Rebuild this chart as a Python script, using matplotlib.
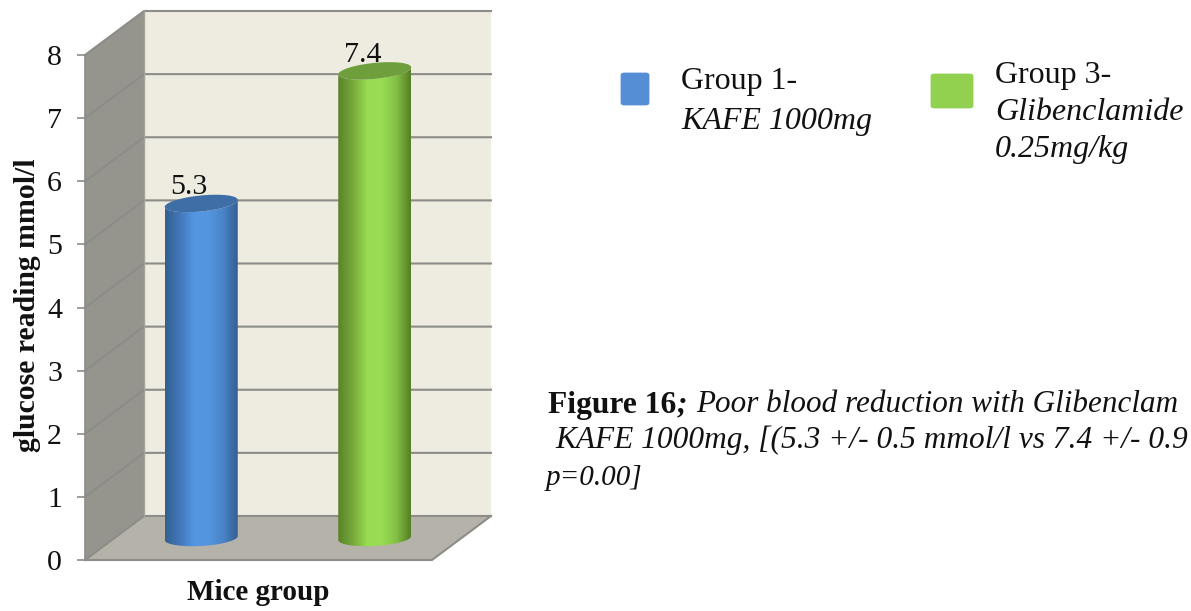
import matplotlib

matplotlib.use("Agg")
import matplotlib.pyplot as plt
import numpy as np
from matplotlib.colors import LinearSegmentedColormap
from matplotlib.patches import FancyBboxPatch, Polygon
from matplotlib.path import Path

GROUPS = ["Group 1", "Group 3"]
GLUCOSE = [5.3, 7.4]
Y_TICKS = [0, 1, 2, 3, 4, 5, 6, 7, 8]
X_LABEL = "Mice group"
Y_LABEL = "glucose reading mmol/l"
BODY_COLORS = [
    ["#33608f", "#4377b8", "#5596e2", "#5495e0", "#4a84c8", "#345f92"],
    ["#588427", "#76a83c", "#98dc52", "#99dd55", "#84c044", "#557f26"],
]
TOP_COLORS = ["#3f6ea6", "#6f9e3c"]
SWATCH_COLORS = ["#558ed5", "#92d050"]

W, H = 1191, 611
PX_X = 173.5  # pixels per x unit
PX_Y = 63.125  # pixels per y unit
DEPTH_X = 59 / PX_X
DEPTH_Y = 44 / PX_Y
GRID = "#8c8c88"
TEXT = "#111111"

plt.rcParams["font.family"] = ["Liberation Serif", "DejaVu Serif"]


def fx(x):
    return x / W


def fy(y):
    return 1 - y / H


def side_arc(cx, cy, skew, start, stop):
    # tilted ellipse in data units, a and b given in pixels
    t = np.linspace(start, stop, 80)
    x = cx + 36.5 * np.cos(t) / PX_X
    y = cy + (8.0 * np.sin(t) + skew * np.cos(t)) / PX_Y
    return np.column_stack([x, y])


def draw_room(ax):
    back = [(DEPTH_X, DEPTH_Y), (2 + DEPTH_X, DEPTH_Y), (2 + DEPTH_X, 8 + DEPTH_Y), (DEPTH_X, 8 + DEPTH_Y)]
    side = [(0, 0), (DEPTH_X, DEPTH_Y), (DEPTH_X, 8 + DEPTH_Y), (0, 8)]
    floor = [(0, 0), (2, 0), (2 + DEPTH_X, DEPTH_Y), (DEPTH_X, DEPTH_Y)]
    ax.add_patch(Polygon(back, fc="#eeece1", ec="none", zorder=1, clip_on=False))
    ax.add_patch(Polygon(side, fc="#96958d", ec="none", zorder=1, clip_on=False))
    ax.add_patch(Polygon(floor, fc="#b5b2aa", ec="none", zorder=1, clip_on=False))
    for tick in Y_TICKS:
        ax.plot(
            [0, DEPTH_X, 2 + DEPTH_X],
            [tick, tick + DEPTH_Y, tick + DEPTH_Y],
            color=GRID, lw=1.5, zorder=2, clip_on=False,
        )
    ax.plot([0, 2, 2 + DEPTH_X], [0, 0, DEPTH_Y], color=GRID, lw=1.5, zorder=2, clip_on=False)
    ax.plot([0, 0], [0, 8], color=GRID, lw=1.2, zorder=2, clip_on=False)
    ax.plot([DEPTH_X, DEPTH_X], [DEPTH_Y, 8 + DEPTH_Y], color="#a5a49c", lw=1, zorder=2, clip_on=False)


def draw_cylinder(ax, pos, value, body_colors, top_color):
    cx = pos + 0.5 + DEPTH_X / 2
    base = DEPTH_Y / 2
    top = base + value
    half = 36.5 / PX_X
    bottom_arc = side_arc(cx, base, 2.0, np.pi, 2 * np.pi)
    top_arc = side_arc(cx, top, 3.5, 2 * np.pi, np.pi)
    body = np.vstack([bottom_arc, top_arc, bottom_arc[:1]])
    cmap = LinearSegmentedColormap.from_list("body", body_colors)
    img = ax.imshow(
        np.linspace(0, 1, 200).reshape(1, -1), cmap=cmap, aspect="auto",
        extent=[cx - half, cx + half, base - 0.2, top + 0.2], zorder=3, clip_on=True,
    )
    img.set_clip_path(Path(body), ax.transData)
    cap = side_arc(cx, top, 3.5, 0, 2 * np.pi)
    ax.add_patch(Polygon(cap, fc=top_color, ec="none", zorder=4, clip_on=False))
    ax.text(
        cx - 12 / PX_X, top + 9 / PX_Y, f"{value:.1f}", ha="center", va="baseline",
        fontsize=21.5, color=TEXT, zorder=5, clip_on=False,
    )


def draw_legend(fig):
    boxes = [(620, 72, 30, 34), (930, 73, 44, 36)]
    for (x, y, w, h), color in zip(boxes, SWATCH_COLORS):
        fig.add_artist(FancyBboxPatch(
            (fx(x + 2), fy(y + h - 2)), (w - 4) / W, (h - 4) / H,
            boxstyle="round,pad=0,rounding_size=0.002",
            fc=color, ec=color, lw=2, transform=fig.transFigure,
        ))
    legend_lines = [
        (681, 82, "Group 1-", "normal"),
        (681, 121, "KAFE 1000mg", "italic"),
        (995, 76, "Group 3-", "normal"),
        (995, 112, "Glibenclamide", "italic"),
        (995, 149, "0.25mg/kg", "italic"),
    ]
    for x, y, label, style in legend_lines:
        fig.text(fx(x), fy(y), label, fontsize=23, style=style, va="center", color=TEXT)


def draw_caption(fig):
    head = fig.text(fx(548), fy(405), "Figure 16", fontsize=22.7, weight="bold", va="center", color=TEXT)
    fig.canvas.draw()
    right = head.get_window_extent().x1 / W
    semi = fig.text(right, fy(405), ";", fontsize=22.7, weight="bold", style="italic", va="center", color=TEXT)
    right = semi.get_window_extent().x1 / W
    fig.text(right + 9 / W, fy(405), "Poor blood reduction with Glibenclam", fontsize=22.4, style="italic", va="center", color=TEXT)
    fig.text(fx(555), fy(440), "KAFE 1000mg, [(5.3 +/- 0.5 mmol/l vs 7.4 +/- 0.9", fontsize=22.6, style="italic", va="center", color=TEXT)
    fig.text(fx(546), fy(478), "p=0.00]", fontsize=21, style="italic", va="center", color=TEXT)


def main():
    fig = plt.figure(figsize=(W / 100, H / 100), dpi=100, facecolor="white")
    ax = fig.add_axes([fx(85), fy(560), 347 / W, 505 / H])
    ax.patch.set_visible(False)
    for spine in ax.spines.values():
        spine.set_visible(False)

    draw_room(ax)
    for pos, value in enumerate(GLUCOSE):
        draw_cylinder(ax, pos, value, BODY_COLORS[pos], TOP_COLORS[pos])

    ax.set_xlim(0, 2)
    ax.set_ylim(0, 8)
    ax.set_xticks([])
    ax.set_yticks(Y_TICKS)
    ax.tick_params(axis="y", length=5.8, width=1.2, color=GRID, labelsize=21.5, pad=10.8, labelcolor=TEXT)
    fig.text(fx(258), fy(592), X_LABEL, fontsize=21, weight="bold", ha="center", va="center", color=TEXT)
    fig.text(fx(28), fy(305), Y_LABEL, fontsize=21.4, weight="bold", rotation=90, ha="center", va="center", color=TEXT)

    draw_legend(fig)
    draw_caption(fig)
    fig.savefig("out.png", dpi=100)


if __name__ == "__main__":
    main()
